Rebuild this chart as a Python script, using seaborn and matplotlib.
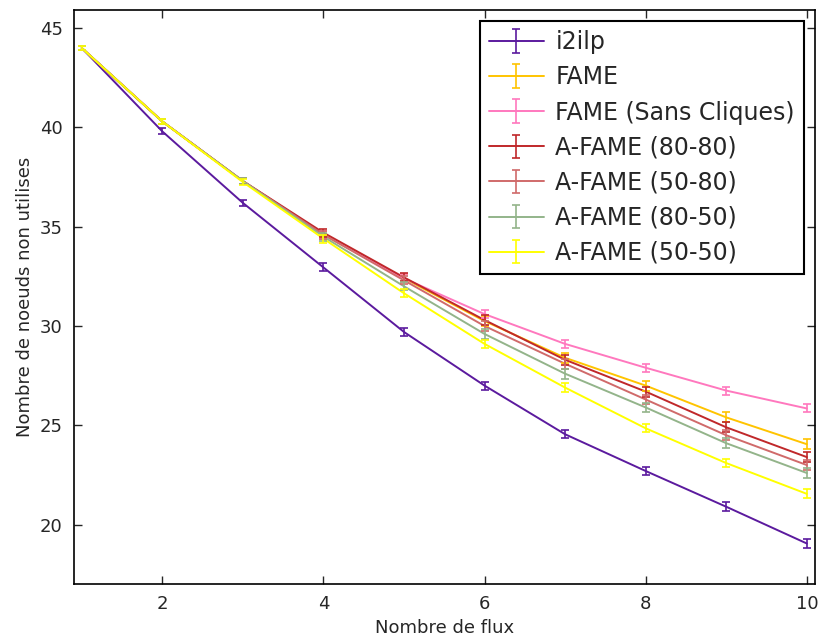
"""Nombre de noeuds non utilises vs nombre de flux
"""
import numpy as np
import pandas as pd
import matplotlib
matplotlib.use("Agg")
import matplotlib.pyplot as plt
import seaborn as sns


# Data

flux = [1, 2, 3, 4, 5, 6, 7, 8, 9, 10]

series_names = [
    "i2ilp",
    "FAME",
    "FAME (Sans Cliques)",
    "A-FAME (80-80)",
    "A-FAME (50-80)",
    "A-FAME (80-50)",
    "A-FAME (50-50)",
]

i2ilp = [44.0, 39.8, 36.2, 32.95, 29.7, 27.0, 24.55, 22.7, 20.9, 19.05]
fame = [44.0, 40.3, 37.3, 34.6, 32.4, 30.25, 28.4, 27.0, 25.4, 24.05]
fame_sc = [44.0, 40.3, 37.3, 34.6, 32.4, 30.6, 29.1, 27.9, 26.75, 25.85]
afame_80_80 = [44.0, 40.3, 37.3, 34.7, 32.45, 30.3, 28.3, 26.7, 24.9, 23.4]
afame_50_80 = [44.0, 40.3, 37.3, 34.6, 32.3, 30.0, 28.1, 26.3, 24.5, 23.0]
afame_80_50 = [44.0, 40.3, 37.3, 34.5, 32.0, 29.6, 27.6, 25.9, 24.1, 22.6]
afame_50_50 = [44.0, 40.3, 37.25, 34.4, 31.65, 29.1, 26.9, 24.85, 23.1, 21.55]

err_i2ilp = [0.1, 0.15, 0.15, 0.2, 0.2, 0.2, 0.2, 0.22, 0.22, 0.25]
err_fame = [0.1, 0.15, 0.15, 0.2, 0.2, 0.25, 0.25, 0.25, 0.25, 0.25]
err_fame_sc = [0.1, 0.15, 0.15, 0.2, 0.2, 0.22, 0.22, 0.2, 0.2, 0.2]
err_afame_80_80 = [0.1, 0.15, 0.15, 0.2, 0.2, 0.25, 0.25, 0.25, 0.25, 0.25]
err_afame_50_80 = [0.1, 0.15, 0.15, 0.2, 0.2, 0.25, 0.25, 0.25, 0.25, 0.25]
err_afame_80_50 = [0.1, 0.15, 0.15, 0.2, 0.2, 0.25, 0.25, 0.25, 0.25, 0.25]
err_afame_50_50 = [0.1, 0.15, 0.15, 0.2, 0.2, 0.22, 0.22, 0.2, 0.2, 0.22]

colors = ["#5b1a9e", "#ffc400", "#ff78be", "#c0282a", "#d06a6a", "#93b48a", "#ffff00"]

values = [i2ilp, fame, fame_sc, afame_80_80, afame_50_80, afame_80_50, afame_50_50]
errors = [err_i2ilp, err_fame, err_fame_sc, err_afame_80_80,
          err_afame_50_80, err_afame_80_50, err_afame_50_50]


def build_frame() -> pd.DataFrame:
    rows = []
    for name, vals, errs in zip(series_names, values, errors):
        for x, y, e in zip(flux, vals, errs):
            rows.append({"flux": x, "noeuds": y, "err": e, "serie": name})
    return pd.DataFrame(rows)


def main():
    df = build_frame()

    sns.set_style("white")
    plt.rcParams["font.family"] = ["DejaVu Sans"]

    fig = plt.figure(figsize=(8.19, 6.42), dpi=100)
    ax = fig.add_axes([0.090, 0.090, 0.905, 0.894])

    palette = dict(zip(series_names, colors))
    sns.lineplot(data=df, x="flux", y="noeuds", hue="serie", hue_order=series_names,
                 palette=palette, errorbar=None, legend=False, linewidth=1.4, ax=ax)

    # error bars + legend proxies
    handles = []
    for name, col in zip(series_names, colors):
        sub = df[df["serie"] == name]
        ax.errorbar(sub["flux"], sub["noeuds"], yerr=sub["err"], fmt="none",
                    ecolor=col, elinewidth=1.2, capsize=3, capthick=1.2)
        h = ax.errorbar([np.nan], [np.nan], yerr=[0.0], fmt="-", color=col,
                        lw=1.4, elinewidth=1.2, capsize=3, capthick=1.2, label=name)
        handles.append(h)

    ax.set_xlim(0.9, 10.1)
    ax.set_ylim(17.0, 45.9)
    ax.set_xticks([2, 4, 6, 8, 10])
    ax.set_yticks([20, 25, 30, 35, 40, 45])
    ax.set_xlabel("Nombre de flux", fontsize=13)
    ax.set_ylabel("Nombre de noeuds non utilises", fontsize=13)
    ax.tick_params(direction="in", length=6, width=1, labelsize=13,
                   top=True, right=True, bottom=True, left=True, pad=8)
    for sp in ax.spines.values():
        sp.set_color("black")
        sp.set_linewidth(1.2)

    leg = ax.legend(handles=handles, labels=series_names, loc="upper right",
                    fontsize=17, fancybox=False, framealpha=1, edgecolor="black",
                    handlelength=2.3, handletextpad=0.5, labelspacing=0.47,
                    borderpad=0.4, borderaxespad=0.45)
    leg.get_frame().set_linewidth(1.5)

    fig.savefig("out.png", dpi=100)
    plt.close(fig)


if __name__ == "__main__":
    main()
